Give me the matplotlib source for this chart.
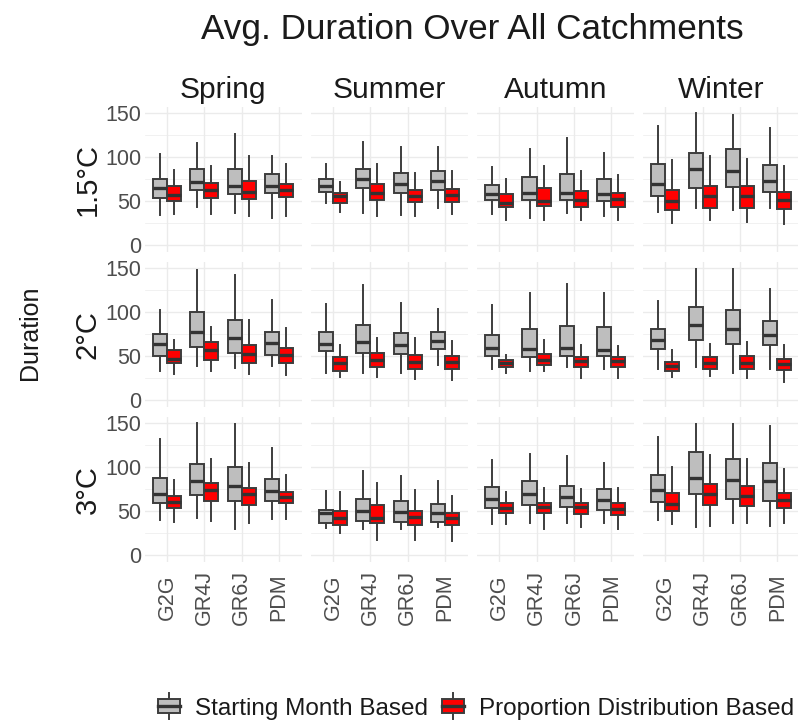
import matplotlib
matplotlib.use('Agg')
import matplotlib.pyplot as plt
from matplotlib.legend_handler import HandlerBase
from matplotlib.patches import Rectangle, Patch
from matplotlib.lines import Line2D

plt.rcParams['font.family'] = ['Liberation Sans', 'DejaVu Sans']

# 类别
seasons = ['Spring', 'Summer', 'Autumn', 'Winter']
temps = ['1.5°C', '2°C', '3°C']
models = ['G2G', 'GR4J', 'GR6J', 'PDM']
methods = ['Starting Month Based', 'Proportion Distribution Based']

# 箱线图统计量: [下须, Q1, 中位数, Q3, 上须]，按 季节 x 模型
starting_15 = [
    [[35, 54, 65, 76, 104], [44, 63, 72, 87, 116], [37, 58, 68, 87, 126], [31, 59, 68, 81, 101]],
    [[48, 61, 68, 76, 92], [37, 65, 75, 87, 117], [35, 60, 70, 82, 112], [42, 63, 73, 84, 112]],
    [[36, 52, 58, 69, 89], [31, 52, 60, 78, 109], [37, 52, 60, 81, 122], [34, 50, 58, 75, 105]],
    [[38, 56, 70, 92, 136], [43, 65, 87, 105, 150], [40, 66, 85, 109, 148], [43, 61, 73, 91, 133]],
]
proportion_15 = [
    [[36, 50, 57, 68, 86], [36, 54, 63, 71, 90], [34, 53, 61, 73, 102], [33, 55, 63, 70, 92]],
    [[38, 48, 56, 60, 72], [34, 52, 60, 70, 93], [33, 49, 56, 63, 82], [36, 49, 57, 64, 84]],
    [[29, 44, 48, 58, 76], [29, 45, 50, 65, 90], [29, 44, 52, 62, 85], [29, 44, 53, 60, 80]],
    [[26, 40, 51, 63, 97], [29, 43, 56, 67, 101], [27, 42, 56, 68, 98], [24, 41, 52, 61, 90]],
]
starting_2 = [
    [[33, 51, 64, 75, 103], [39, 61, 78, 100, 148], [37, 54, 71, 91, 142], [39, 52, 65, 78, 114]],
    [[31, 56, 64, 78, 109], [31, 54, 66, 86, 131], [31, 53, 63, 77, 111], [40, 58, 67, 78, 104]],
    [[36, 50, 60, 74, 108], [34, 49, 58, 81, 122], [38, 51, 60, 85, 132], [36, 50, 57, 83, 122]],
    [[36, 58, 69, 81, 113], [38, 69, 86, 106, 149], [31, 64, 81, 103, 149], [36, 63, 74, 90, 126]],
]
proportion_2 = [
    [[30, 42, 47, 57, 69], [34, 46, 57, 66, 83], [30, 43, 53, 63, 91], [29, 43, 52, 60, 82]],
    [[27, 34, 42, 49, 63], [27, 38, 46, 54, 71], [24, 36, 44, 52, 71], [23, 36, 44, 50, 68]],
    [[31, 38, 42, 46, 52], [33, 40, 46, 53, 69], [25, 38, 45, 49, 63], [25, 38, 45, 49, 62]],
    [[27, 34, 39, 44, 57], [28, 36, 42, 49, 64], [26, 36, 43, 50, 66], [21, 35, 41, 47, 63]],
]
starting_3 = [
    [[40, 59, 70, 88, 132], [42, 69, 85, 104, 150], [30, 62, 79, 100, 149], [41, 62, 73, 87, 122]],
    [[31, 37, 48, 52, 73], [30, 39, 51, 64, 96], [30, 38, 49, 62, 90], [32, 38, 48, 58, 85]],
    [[36, 54, 64, 78, 108], [37, 57, 70, 85, 115], [37, 55, 66, 79, 113], [37, 52, 63, 75, 105]],
    [[40, 61, 74, 91, 135], [32, 70, 88, 117, 149], [37, 64, 86, 110, 149], [34, 62, 84, 105, 147]],
]
proportion_3 = [
    [[38, 54, 61, 68, 86], [39, 62, 74, 82, 110], [37, 57, 70, 77, 105], [41, 59, 66, 72, 91]],
    [[25, 35, 43, 51, 72], [18, 37, 42, 57, 82], [18, 35, 44, 51, 74], [17, 35, 42, 48, 68]],
    [[36, 48, 54, 59, 72], [30, 48, 55, 60, 77], [32, 47, 55, 60, 76], [30, 46, 53, 60, 77]],
    [[36, 51, 58, 71, 100], [34, 57, 70, 81, 114], [37, 56, 67, 79, 110], [37, 54, 63, 71, 98]],
]

starting = [starting_15, starting_2, starting_3]
proportion = [proportion_15, proportion_2, proportion_3]

gray_fill = '#BEBEBE'
red_fill = '#FF0000'
edge = '#3d3d3d'
grid_c = '#EBEBEB'

W, H = 798, 722
fig = plt.figure(figsize=(W / 100, H / 100), dpi=100)

# 像素布局
left0, pw, xstep = 144.5, 157, 166.1
top0, ph, ystep = 106.7, 145.4, 155.0


def to_fig(x, y, w, h):
    return [x / W, 1 - (y + h) / H, w / W, h / H]


def bstats(v):
    return dict(whislo=v[0], q1=v[1], med=v[2], q3=v[3], whishi=v[4])


for r in range(3):
    for c in range(4):
        ax = fig.add_axes(to_fig(left0 + c * xstep, top0 + r * ystep, pw, ph))
        for s in ax.spines.values():
            s.set_visible(False)
        ax.set_xlim(-0.6, 3.6)
        ax.set_ylim(-7.5, 157.5)
        ax.set_yticks([0, 50, 100, 150])
        ax.set_yticks([25, 75, 125], minor=True)
        ax.set_xticks(range(4))
        ax.grid(True, which='major', color=grid_c, lw=1.0, zorder=0)
        ax.grid(True, which='minor', axis='y', color=grid_c, lw=0.5, zorder=0)
        ax.set_axisbelow(True)
        ax.tick_params(which='both', length=0, labelsize=15.5, labelcolor='#4D4D4D', pad=2.5)
        ax.set_xticklabels([])
        if c > 0:
            ax.set_yticklabels([])

        for m, (data, fc, off) in enumerate([(starting[r][c], gray_fill, -0.1875),
                                              (proportion[r][c], red_fill, 0.1875)]):
            pos = [i + off for i in range(4)]
            ax.bxp([bstats(v) for v in data], positions=pos, widths=0.375,
                   showfliers=False, showcaps=False, patch_artist=True,
                   boxprops=dict(facecolor=fc, edgecolor=edge, lw=1.4),
                   whiskerprops=dict(color=edge, lw=1.4),
                   medianprops=dict(color='#333333', lw=2.4, solid_capstyle='butt'),
                   manage_ticks=False, zorder=2)

        if r == 0:
            ax.set_title(seasons[c], fontsize=21.5, color='#1A1A1A', pad=6)
        if c == 0:
            ax.text(-57 / pw, 0.5, temps[r], transform=ax.transAxes, rotation=90,
                    ha='center', va='center', fontsize=21, color='#1A1A1A')
        if r == 2:
            for i, lab in enumerate(models):
                ax.text(i, -0.24, lab, transform=ax.get_xaxis_transform(), rotation=90,
                        ha='center', va='center', fontsize=15.5, color='#4D4D4D')

fig.text(472 / W, 1 - 30 / H, 'Avg. Duration Over All Catchments', ha='center', va='center',
         fontsize=25.3, color='#1A1A1A')
fig.text(30 / W, 1 - 333 / H, 'Duration', rotation=90, ha='center', va='center',
         fontsize=18, color='#1A1A1A')


class BoxKey(HandlerBase):
    def create_artists(self, legend, orig, xd, yd, w, h, fs, trans):
        x0, y0 = -xd, -yd
        cx = x0 + w / 2
        ln = Line2D([cx, cx], [y0 - 0.15 * h, y0 + 1.15 * h], color=edge, lw=1.4, transform=trans)
        rect = Rectangle((x0, y0 + 0.15 * h), w, 0.7 * h, facecolor=orig.get_facecolor(),
                         edgecolor=edge, lw=1.4, transform=trans)
        med = Line2D([x0, x0 + w], [y0 + 0.5 * h, y0 + 0.5 * h], color='#333333', lw=2.4,
                     transform=trans)
        return [ln, rect, med]


handles = [Patch(facecolor=gray_fill), Patch(facecolor=red_fill)]
fig.legend(handles, methods, handler_map={Patch: BoxKey()}, loc='center',
           bbox_to_anchor=(476 / W, 1 - 708 / H), ncol=2, frameon=False, fontsize=17.5,
           handlelength=0.9, handleheight=0.9, handletextpad=0.6, columnspacing=0.6,
           labelcolor='#1A1A1A')

fig.savefig('out.png', dpi=100, facecolor='white')
